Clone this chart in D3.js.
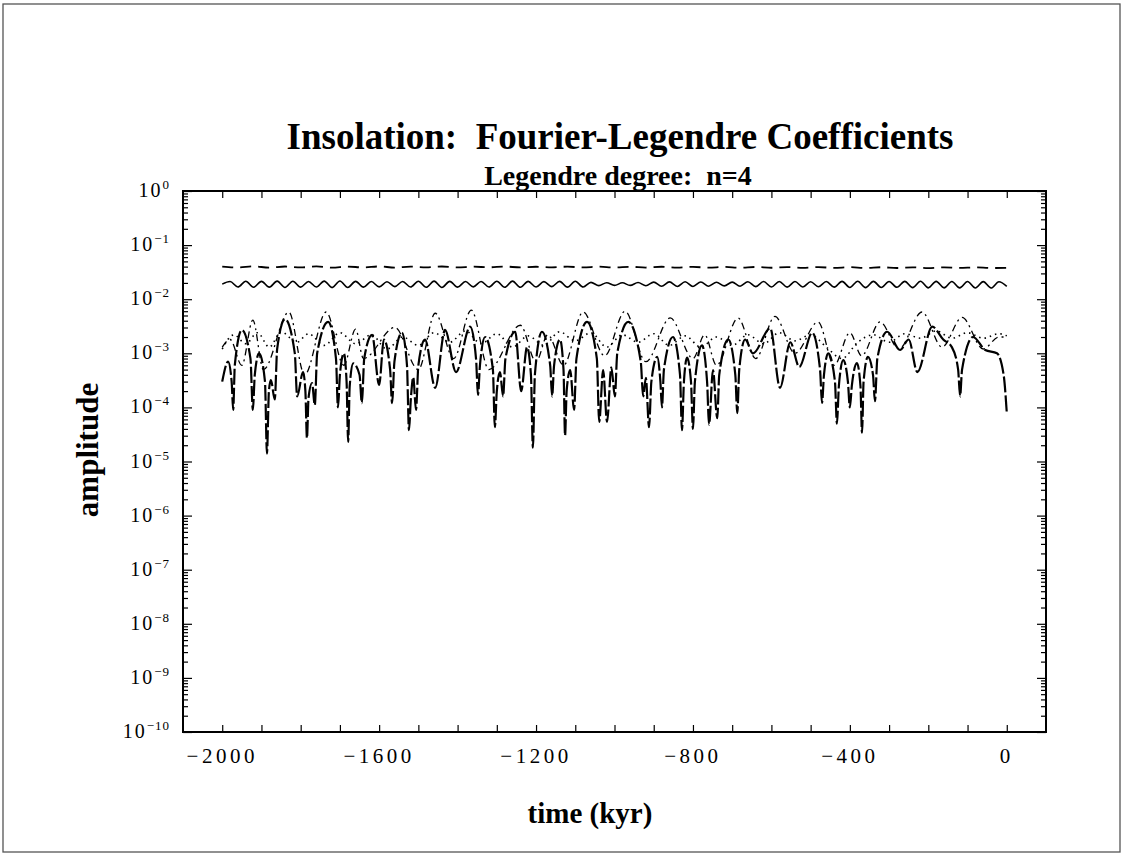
<!DOCTYPE html>
<html>
<head>
<meta charset="utf-8">
<script src="https://cdn.jsdelivr.net/npm/d3@7"></script>
<style>
  body { margin: 0; background: #fff; }
  svg { display: block; font-family: "Liberation Serif", "Times New Roman", serif; }
  .keep { white-space: pre; }
</style>
</head>
<body>
<svg id="chart" width="1124" height="856"></svg>
<script>
// x tick labels (kyr) and y decades
var xTickLabels = [-2000, -1600, -1200, -800, -400, 0];
var yDecades = [0, -1, -2, -3, -4, -5, -6, -7, -8, -9, -10];

// upper dashed curve, sampled every 40 kyr from -2000
var topDashed = [0.0400, 0.0385, 0.0405, 0.0383, 0.0402, 0.0386, 0.0404, 0.0384, 0.0401, 0.0387,
  0.0403, 0.0385, 0.0400, 0.0388, 0.0402, 0.0386, 0.0399, 0.0389, 0.0401, 0.0387,
  0.0398, 0.0388, 0.0400, 0.0386, 0.0399, 0.0387, 0.0397, 0.0385, 0.0398, 0.0384,
  0.0396, 0.0383, 0.0395, 0.0382, 0.0394, 0.0381, 0.0393, 0.0380, 0.0392, 0.0379,
  0.0391, 0.0378, 0.0390, 0.0377, 0.0389, 0.0376, 0.0388, 0.0378, 0.0387, 0.0377, 0.0380];

// wavy solid curve, sampled every 20 kyr from -2000
var wavySolid = [0.0190, 0.0212, 0.0168, 0.0215, 0.0166, 0.0214, 0.0167, 0.0216, 0.0165, 0.0215,
  0.0167, 0.0213, 0.0168, 0.0216, 0.0164, 0.0217, 0.0165, 0.0214, 0.0167, 0.0212,
  0.0169, 0.0210, 0.0171, 0.0213, 0.0168, 0.0215, 0.0166, 0.0216, 0.0165, 0.0214,
  0.0167, 0.0212, 0.0169, 0.0213, 0.0168, 0.0215, 0.0166, 0.0216, 0.0166, 0.0214,
  0.0168, 0.0211, 0.0171, 0.0214, 0.0167, 0.0215, 0.0168, 0.0205, 0.0178, 0.0202,
  0.0180, 0.0201, 0.0180, 0.0203, 0.0177, 0.0207, 0.0174, 0.0209, 0.0172, 0.0210,
  0.0172, 0.0208, 0.0174, 0.0206, 0.0176, 0.0207, 0.0174, 0.0210, 0.0171, 0.0212,
  0.0168, 0.0213, 0.0167, 0.0212, 0.0168, 0.0210, 0.0170, 0.0212, 0.0167, 0.0214,
  0.0165, 0.0215, 0.0164, 0.0214, 0.0165, 0.0213, 0.0166, 0.0214, 0.0164, 0.0215,
  0.0162, 0.0214, 0.0162, 0.0213, 0.0162, 0.0212, 0.0161, 0.0211, 0.0161, 0.0210, 0.0172];

// dash-dot curve: [time, amplitude]
var dashDot = [[-2000, 1.3e-3], [-1980, 1.8e-3], [-1950, 6e-4], [-1922, 4.1e-3], [-1895, 5e-4],
  [-1830, 5.8e-3], [-1790, 4e-4], [-1735, 5.8e-3], [-1690, 6e-4], [-1660, 2.8e-3],
  [-1640, 8e-4], [-1560, 3.0e-3], [-1500, 5e-4], [-1457, 5.5e-3], [-1410, 8e-4],
  [-1365, 6.3e-3], [-1320, 5e-4], [-1240, 3.3e-3], [-1200, 7e-4], [-1170, 2.2e-3],
  [-1130, 6e-4], [-1080, 5.8e-3], [-1025, 9e-4], [-973, 6.0e-3], [-920, 7e-4],
  [-858, 4.5e-3], [-800, 8e-4], [-770, 2.2e-3], [-740, 6e-4], [-685, 4.5e-3],
  [-640, 8e-4], [-591, 4.8e-3], [-540, 1.0e-3], [-481, 3.8e-3], [-440, 6e-4],
  [-400, 2.4e-3], [-370, 9e-4], [-323, 3.8e-3], [-275, 1.2e-3], [-216, 5.8e-3],
  [-165, 1.3e-3], [-114, 4.6e-3], [-60, 1.2e-3], [-20, 2.0e-3], [0, 2.0e-3]];

// heavy long-dash curve with the deep dips: [time, amplitude]
var longDash = [[-2000, 3.0e-4], [-1985, 7.0e-4], [-1976, 3e-4], [-1972, 9e-5], [-1968, 6e-4],
  [-1950, 2.7e-3], [-1928, 8e-4], [-1922, 9e-5], [-1917, 4e-4], [-1906, 1.0e-3],
  [-1891, 3e-4], [-1886, 1.4e-5], [-1881, 2e-4], [-1876, 3.2e-4], [-1866, 1.4e-4],
  [-1860, 1.2e-3], [-1840, 4.3e-3], [-1815, 1.0e-3], [-1809, 1.6e-4], [-1794, 4.5e-4],
  [-1788, 2e-4], [-1784, 2.7e-5], [-1780, 1.5e-4], [-1771, 2.8e-4], [-1764, 1.1e-4],
  [-1758, 1.0e-3], [-1730, 3.8e-3], [-1710, 8e-4], [-1705, 1.0e-4], [-1700, 4e-4],
  [-1690, 1.0e-3], [-1683, 3e-4], [-1679, 2.3e-5], [-1675, 2.5e-4], [-1666, 6.5e-4],
  [-1650, 4e-4], [-1644, 1.2e-4], [-1638, 8e-4], [-1618, 2.2e-3], [-1600, 2.6e-4],
  [-1588, 1.8e-3], [-1572, 5e-4], [-1567, 1.2e-4], [-1561, 7e-4], [-1542, 2.4e-3],
  [-1529, 6e-4], [-1524, 3.8e-5], [-1519, 1.5e-4], [-1513, 3.6e-4], [-1506, 9e-5],
  [-1500, 6e-4], [-1483, 1.8e-3], [-1457, 2.3e-4], [-1432, 2.7e-3], [-1404, 4.5e-4],
  [-1368, 3.1e-3], [-1353, 8e-4], [-1348, 1.7e-4], [-1343, 6e-4], [-1330, 2.0e-3],
  [-1310, 5e-4], [-1305, 4.3e-5], [-1300, 2e-4], [-1292, 4.5e-4], [-1284, 1.6e-4],
  [-1278, 8e-4], [-1253, 2.5e-3], [-1238, 2.0e-4], [-1223, 1.3e-3], [-1213, 4e-4],
  [-1208, 1.8e-5], [-1203, 4e-4], [-1185, 2.5e-3], [-1164, 6e-4], [-1159, 1.6e-4],
  [-1154, 6e-4], [-1139, 1.8e-3], [-1130, 5e-4], [-1126, 3.0e-5], [-1122, 2e-4],
  [-1113, 4.9e-4], [-1103, 9e-5], [-1097, 8e-4], [-1070, 3.8e-3], [-1045, 8e-4],
  [-1039, 5.4e-5], [-1029, 4.9e-4], [-1019, 5.4e-5], [-1008, 5.5e-4], [-999, 1.6e-4],
  [-993, 1.0e-3], [-965, 3.8e-3], [-933, 7e-4], [-927, 1.6e-4], [-920, 3.5e-4],
  [-912, 4.3e-5], [-906, 3e-4], [-891, 8.6e-4], [-883, 3e-4], [-879, 1.0e-4],
  [-874, 5e-4], [-851, 2.0e-3], [-833, 4e-4], [-828, 3.8e-5], [-823, 3e-4],
  [-815, 8.3e-4], [-805, 3e-4], [-800, 4.0e-5], [-795, 3e-4], [-777, 1.4e-3],
  [-764, 3e-4], [-759, 4.8e-5], [-749, 4.9e-4], [-738, 6.3e-5], [-733, 4e-4],
  [-710, 1.8e-3], [-692, 4e-4], [-687, 7.8e-5], [-682, 5e-4], [-667, 1.8e-3],
  [-647, 1.0e-3], [-603, 2.9e-3], [-578, 2.3e-4], [-552, 1.6e-3], [-529, 5.6e-4],
  [-496, 2.4e-3], [-476, 5e-4], [-471, 1.2e-4], [-466, 4e-4], [-455, 1.0e-3],
  [-438, 3e-4], [-433, 5.0e-5], [-428, 2.5e-4], [-417, 7.5e-4], [-405, 3e-4],
  [-400, 1.0e-4], [-395, 2.5e-4], [-382, 6.6e-4], [-373, 2.5e-4], [-369, 3.4e-5],
  [-365, 3e-4], [-354, 8.6e-4], [-341, 4e-4], [-336, 1.3e-4], [-330, 8e-4],
  [-305, 2.5e-3], [-272, 1.15e-3], [-250, 1.8e-3], [-228, 4.5e-4], [-190, 3.1e-3],
  [-162, 1.8e-3], [-140, 1.3e-3], [-124, 5e-4], [-119, 1.6e-4], [-114, 5e-4],
  [-86, 2.0e-3], [-55, 1.15e-3], [-25, 1.0e-3], [-8, 4e-4], [0, 8e-5]];

// dotted curve: [time, amplitude]
var dotted = [[-2000, 1.2e-3], [-1970, 2.2e-3], [-1940, 1.5e-3], [-1910, 2.4e-3], [-1880, 1.3e-3],
  [-1850, 2.5e-3], [-1810, 1.6e-3], [-1780, 2.3e-3], [-1740, 1.4e-3], [-1700, 2.4e-3],
  [-1660, 1.5e-3], [-1620, 2.2e-3], [-1580, 1.2e-3], [-1540, 2.0e-3], [-1500, 1.4e-3],
  [-1460, 2.4e-3], [-1420, 1.6e-3], [-1380, 2.6e-3], [-1340, 1.5e-3], [-1300, 2.3e-3],
  [-1260, 1.3e-3], [-1220, 2.1e-3], [-1180, 1.4e-3], [-1140, 2.5e-3], [-1100, 1.7e-3],
  [-1060, 2.4e-3], [-1020, 1.3e-3], [-980, 2.2e-3], [-940, 1.6e-3], [-900, 2.3e-3],
  [-860, 1.4e-3], [-820, 2.1e-3], [-780, 1.3e-3], [-740, 2.0e-3], [-700, 1.4e-3],
  [-660, 2.2e-3], [-620, 1.5e-3], [-580, 2.4e-3], [-540, 1.7e-3], [-500, 2.2e-3],
  [-460, 1.3e-3], [-420, 8e-4], [-380, 1.6e-3], [-340, 2.2e-3], [-300, 1.6e-3],
  [-260, 2.3e-3], [-220, 1.9e-3], [-180, 2.6e-3], [-140, 1.9e-3], [-100, 2.4e-3],
  [-60, 1.9e-3], [-20, 2.3e-3], [0, 2.1e-3]];

var svg = d3.select('#chart');

// frame of the plot area
var plotL = 183, plotR = 1046, plotT = 191, plotB = 732;

var x = d3.scaleLinear().domain([-2100, 100]).range([plotL, plotR]);
var y = d3.scaleLog().domain([1e-10, 1]).range([plotB, plotT]);

// outer border of the page
svg.append('rect')
  .attr('x', 3).attr('y', 4)
  .attr('width', 1117).attr('height', 848)
  .style('fill', 'none')
  .style('stroke', '#555')
  .style('stroke-width', '1.3px');

// titles
svg.append('text')
  .attr('class', 'keep')
  .attr('x', 620).attr('y', 149)
  .attr('text-anchor', 'middle')
  .style('font-size', '37px').style('font-weight', 'bold')
  .text('Insolation:  Fourier-Legendre Coefficients');

svg.append('text')
  .attr('class', 'keep')
  .attr('x', 618).attr('y', 185)
  .attr('text-anchor', 'middle')
  .style('font-size', '28px').style('font-weight', 'bold')
  .text('Legendre degree:  n=4');

svg.append('text')
  .attr('transform', 'translate(98,450) rotate(-90)')
  .attr('text-anchor', 'middle')
  .style('font-size', '31px').style('font-weight', 'bold')
  .text('amplitude');

svg.append('text')
  .attr('x', 590).attr('y', 823)
  .attr('text-anchor', 'middle')
  .style('font-size', '29px').style('font-weight', 'bold')
  .text('time (kyr)');

// axes: ticks point inwards
var xTicks = d3.range(-2000, 1, 100);
var yMajor = yDecades.map(function(k) { return Math.pow(10, k); });
var yMinor = [];
yDecades.forEach(function(k) {
  if (k === 0) return;
  for (var m = 2; m < 10; m++) yMinor.push(m * Math.pow(10, k));
});

var g = svg.append('g');

g.append('g')
  .attr('transform', 'translate(0,' + plotB + ')')
  .call(d3.axisBottom(x).tickValues(xTicks).tickSizeInner(-7).tickSizeOuter(0).tickFormat(''));
g.append('g')
  .attr('transform', 'translate(0,' + plotT + ')')
  .call(d3.axisTop(x).tickValues(xTicks).tickSizeInner(-7).tickSizeOuter(0).tickFormat(''));
g.append('g')
  .attr('transform', 'translate(' + plotL + ',0)')
  .call(d3.axisLeft(y).tickValues(yMajor).tickSizeInner(-9).tickSizeOuter(0).tickFormat(''));
g.append('g')
  .attr('transform', 'translate(' + plotL + ',0)')
  .call(d3.axisLeft(y).tickValues(yMinor).tickSizeInner(-5).tickSizeOuter(0).tickFormat(''));
g.append('g')
  .attr('transform', 'translate(' + plotR + ',0)')
  .call(d3.axisRight(y).tickValues(yMajor).tickSizeInner(-9).tickSizeOuter(0).tickFormat(''));
g.append('g')
  .attr('transform', 'translate(' + plotR + ',0)')
  .call(d3.axisRight(y).tickValues(yMinor).tickSizeInner(-5).tickSizeOuter(0).tickFormat(''));

g.selectAll('.domain').remove();
g.selectAll('.tick line').style('stroke', '#000').style('stroke-width', '1.2px');

svg.append('rect')
  .attr('x', plotL).attr('y', plotT)
  .attr('width', plotR - plotL).attr('height', plotB - plotT)
  .style('fill', 'none')
  .style('stroke', '#000')
  .style('stroke-width', '2px');

// tick labels
svg.selectAll('.xlab')
  .data(xTickLabels)
  .enter().append('text')
  .attr('class', 'xlab')
  .attr('x', function(d) { return x(d); })
  .attr('y', 763)
  .attr('text-anchor', 'middle')
  .style('font-size', '21px')
  .style('letter-spacing', '3.5px')
  .text(function(d) { return String(d).replace('-', '\u2212'); });

var ylab = svg.selectAll('.ylab')
  .data(yDecades)
  .enter().append('text')
  .attr('class', 'ylab')
  .attr('x', 170)
  .attr('y', function(d) { return y(Math.pow(10, d)) + 6; })
  .attr('text-anchor', 'end')
  .style('font-size', '20px');
ylab.append('tspan').style('letter-spacing', '2px').text('10');
ylab.append('tspan')
  .attr('dy', -8)
  .style('font-size', '13px')
  .style('letter-spacing', '1px')
  .text(function(d) { return String(d).replace('-', '\u2212'); });

// curves
var line = d3.line()
  .x(function(d) { return x(d[0]); })
  .y(function(d) { return y(d[1]); })
  .curve(d3.curveMonotoneX);

function sampled(values, start, step) {
  return values.map(function(v, i) { return [start + i * step, v]; });
}

var curves = [
  { data: sampled(topDashed, -2000, 40), dash: '11,7', width: 1.8 },
  { data: sampled(wavySolid, -2000, 20), dash: null, width: 1.6 },
  { data: dotted, dash: '1.5,4', width: 1.6 },
  { data: dashDot, dash: '7,4,2,4', width: 1.3 },
  { data: longDash, dash: '16,3', width: 2.2 }
];

svg.append('g')
  .selectAll('path')
  .data(curves)
  .enter().append('path')
  .attr('d', function(d) { return line(d.data); })
  .style('fill', 'none')
  .style('stroke', '#000')
  .style('stroke-width', function(d) { return d.width + 'px'; })
  .style('stroke-dasharray', function(d) { return d.dash; });
</script>
</body>
</html>
